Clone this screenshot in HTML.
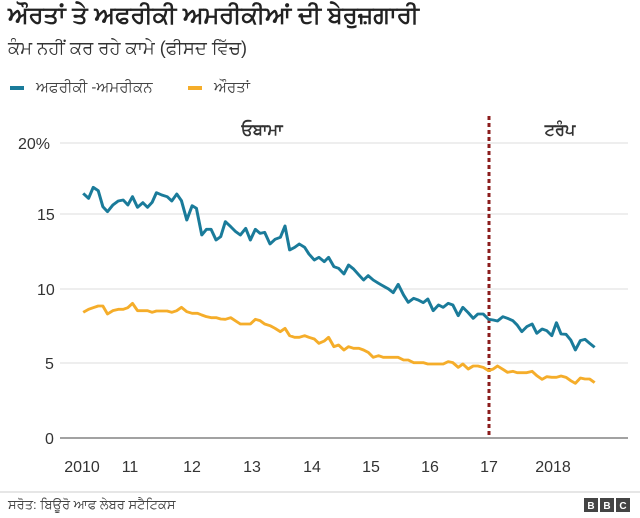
<!DOCTYPE html>
<html><head><meta charset="utf-8">
<style>
body{margin:0;width:640px;height:518px;background:#fff;font-family:"Liberation Sans","DejaVu Sans",sans-serif;color:#222;overflow:hidden;position:relative}
.t{position:absolute;left:8px;top:2px;font-size:24px;font-weight:bold;color:#222}
.s{position:absolute;left:8px;top:38px;font-size:18px;color:#333}
.lg{position:absolute;top:79px;font-size:15px;color:#444}
.sw{display:inline-block;width:14px;height:4px;vertical-align:middle;margin-right:12px}
</style></head><body>
<div class="t">ਔਰਤਾਂ ਤੇ ਅਫਰੀਕੀ ਅਮਰੀਕੀਆਂ ਦੀ ਬੇਰੁਜ਼ਗਾਰੀ</div>
<div class="s">ਕੰਮ ਨਹੀਂ ਕਰ ਰਹੇ ਕਾਮੇ (ਫੀਸਦ ਵਿੱਚ)</div>
<div class="lg" style="left:10px"><span class="sw" style="background:#1a7b9a"></span>ਅਫਰੀਕੀ -ਅਮਰੀਕਨ</div>
<div class="lg" style="left:188px"><span class="sw" style="background:#f5ad2a"></span>ਔਰਤਾਂ</div>
<svg width="640" height="518" style="position:absolute;left:0;top:0">
<g stroke="#dcdcdc" stroke-width="1">
<line x1="60" y1="143" x2="628" y2="143"/><line x1="60" y1="214" x2="628" y2="214"/>
<line x1="60" y1="289" x2="628" y2="289"/><line x1="60" y1="363" x2="628" y2="363"/>
</g>
<line x1="60" y1="438" x2="628" y2="438" stroke="#444" stroke-width="1"/>
<g font-size="16" fill="#333" font-family="Liberation Sans,sans-serif">
<text x="18" y="149">20%</text><text x="37" y="220">15</text><text x="37" y="295">10</text><text x="45" y="369">5</text><text x="45" y="444">0</text>
<g text-anchor="middle"><text x="82" y="472">2010</text><text x="130" y="472">11</text><text x="192" y="472">12</text><text x="252" y="472">13</text><text x="312" y="472">14</text><text x="371" y="472">15</text><text x="430" y="472">16</text><text x="489" y="472">17</text><text x="553" y="472">2018</text></g>
<g font-weight="bold" text-anchor="middle"><text x="262" y="135">ਓਬਾਮਾ</text><text x="560" y="135">ਟਰੰਪ</text></g>
</g>
<line x1="489" y1="116" x2="489" y2="438" stroke="#8b1d1d" stroke-width="3" stroke-dasharray="4,3"/>
<g transform="translate(60,170) scale(0.35714,0.33333)" fill="none" stroke-width="8.5" stroke-linejoin="round">
<polyline stroke="#1a7b9a" points="65,70 80,85 93,52 107,62 120,110 133,125 148,105 163,93 177,90 190,105 203,80 217,112 232,98 245,112 258,97 270,68 285,75 300,80 313,93 327,72 340,92 355,150 370,107 382,115 397,195 410,178 423,178 437,210 450,200 463,155 478,170 492,185 505,195 520,175 533,210 547,178 560,190 573,187 588,222 602,208 617,202 630,168 643,240 657,232 670,222 685,232 697,252 712,270 725,262 740,275 752,262 767,290 780,295 795,312 808,285 822,297 837,315 850,330 863,317 877,330 892,340 905,348 920,357 933,368 947,343 962,375 975,397 990,385 1003,390 1017,398 1030,387 1045,422 1060,405 1073,412 1087,400 1100,405 1115,437 1128,412 1143,428 1157,445 1170,432 1185,432 1200,448 1213,450 1225,453 1240,440 1253,445 1268,452 1280,465 1293,485 1307,470 1322,462 1335,490 1350,477 1363,482 1377,497 1390,458 1403,492 1417,493 1430,510 1443,540 1457,512 1470,508 1483,520 1497,532"/>
<polyline stroke="#f5ad2a" points="65,427 80,418 93,413 107,408 120,408 133,432 148,422 163,418 177,418 190,413 203,400 217,422 232,422 245,422 258,427 270,423 285,423 300,423 313,427 327,422 340,412 355,425 370,430 385,430 397,435 410,440 423,443 437,443 450,447 463,448 478,443 492,453 505,462 520,462 533,462 547,448 560,452 573,462 588,467 602,475 617,485 630,475 643,497 657,502 670,502 685,497 697,502 712,507 725,520 740,513 752,502 767,530 780,525 795,540 808,530 822,535 837,535 850,540 863,547 877,562 892,557 905,562 920,562 933,562 947,562 962,570 975,570 990,578 1003,578 1017,578 1030,582 1045,582 1060,582 1073,582 1087,575 1100,578 1115,592 1128,582 1143,597 1157,588 1170,588 1185,592 1200,602 1213,597 1225,588 1240,598 1253,607 1268,604 1280,608 1293,608 1307,608 1322,604 1335,617 1350,628 1363,620 1377,622 1390,622 1403,618 1417,622 1430,632 1443,640 1457,624 1470,627 1483,627 1497,638"/>
</g>
<line x1="0" y1="492" x2="640" y2="492" stroke="#ccc"/>
<text x="8" y="509" font-size="13" fill="#444">ਸਰੋਤ: ਬਿਊਰੋ ਆਫ ਲੇਬਰ ਸਟੈਟਿਕਸ</text>
<g font-size="10" font-weight="bold" fill="#fff" text-anchor="middle">
<rect x="584" y="498" width="14" height="14" fill="#444"/><text x="591" y="509">B</text>
<rect x="600" y="498" width="14" height="14" fill="#444"/><text x="607" y="509">B</text>
<rect x="616" y="498" width="14" height="14" fill="#444"/><text x="623" y="509">C</text>
</g>
</svg>
</body></html>
